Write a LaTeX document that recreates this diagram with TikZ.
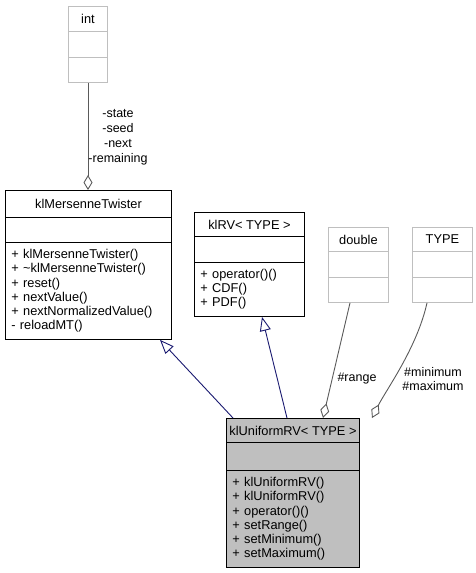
\documentclass[tikz,border=0pt]{standalone}
\usepackage{fontspec}
\setmainfont{Liberation Sans}
\usetikzlibrary{arrows.meta}
\definecolor{edgeblue}{HTML}{191970}
\definecolor{edgegray}{HTML}{5A5A5A}
\definecolor{boxgray}{HTML}{BFBFBF}
\newcommand\clsfont{\fontsize{12.8}{14.2}\selectfont}
\tikzset{
  part/.style={draw=black, fill=white, line width=0.9pt, inner xsep=6pt, inner ysep=0pt,
    anchor=north west, font=\clsfont},
  ghost/.style={part, draw=boxgray},
  hilite/.style={part, fill=boxgray},
  meth/.style={align=left},
  ttl/.style={inner xsep=0pt},
  inh/.style={draw=edgeblue, line width=0.9pt, -{Triangle[open, length=14pt, width=11pt]}},
  agg/.style={draw=edgegray, line width=0.9pt, -{Diamond[open, length=15pt, width=9pt]}},
  lbl/.style={font=\fontsize{12.5}{15}\selectfont, align=center, inner sep=0pt}
}
\begin{document}
\begin{tikzpicture}[x=1pt, y=-1pt]
\useasboundingbox (0,0) rectangle (475,573);
% int
\node[ghost, ttl, minimum width=39pt, minimum height=25pt] (int-t) at (68,6) {int};
\node[ghost, minimum width=39pt, minimum height=26pt] (int-a) at (68,31) {};
\node[ghost, minimum width=39pt, minimum height=25pt] (int-m) at (68,57) {};
% klMersenneTwister
\node[part, ttl, minimum width=166pt, minimum height=27pt] (mt-t) at (5,190) {klMersenneTwister};
\node[part, minimum width=166pt, minimum height=25pt] (mt-a) at (5,217) {};
\node[part, meth, text width=154pt, minimum height=97pt] (mt-m) at (5,242)
  {+ klMersenneTwister()\\+ \textasciitilde klMersenneTwister()\\+ reset()\\+ nextValue()\\+ nextNormalizedValue()\\- reloadMT()};
% klRV
\node[part, ttl, minimum width=110pt, minimum height=24pt] (rv-t) at (194,212) {klRV< TYPE >};
\node[part, minimum width=110pt, minimum height=26pt] (rv-a) at (194,236) {};
\node[part, meth, text width=98pt, minimum height=54pt] (rv-m) at (194,262)
  {+ operator()()\\+ CDF()\\+ PDF()};
% double
\node[ghost, ttl, minimum width=60pt, minimum height=24pt] (dbl-t) at (328,227) {double};
\node[ghost, minimum width=60pt, minimum height=26pt] (dbl-a) at (328,251) {};
\node[ghost, minimum width=60pt, minimum height=25pt] (dbl-m) at (328,277) {};
% TYPE
\node[ghost, ttl, minimum width=60pt, minimum height=24pt] (typ-t) at (412,227) {TYPE};
\node[ghost, minimum width=60pt, minimum height=26pt] (typ-a) at (412,251) {};
\node[ghost, minimum width=60pt, minimum height=25pt] (typ-m) at (412,277) {};
% klUniformRV
\node[hilite, ttl, minimum width=133pt, minimum height=24pt] (u-t) at (226,418) {klUniformRV< TYPE >};
\node[hilite, minimum width=133pt, minimum height=28pt] (u-a) at (226,442) {};
\node[hilite, meth, text width=121pt, minimum height=97pt] (u-m) at (226,470)
  {+ klUniformRV()\\+ klUniformRV()\\+ operator()()\\+ setRange()\\+ setMinimum()\\+ setMaximum()};
% connectors
\draw[inh] ([xshift=7pt]u-t.north west) -- ([xshift=155pt]mt-m.south west);
\draw[inh] ([xshift=61pt]u-t.north west) -- ([xshift=68pt]rv-m.south west);
\draw[agg] ([xshift=20pt]int-m.south west) -- ([xshift=83pt]mt-t.north west);
\draw[agg] ([xshift=22pt]dbl-m.south west) -- ([xshift=97pt]u-t.north west);
\draw[agg] ([xshift=15pt]typ-m.south west) .. controls +(-10,45) and +(14,-28) .. ([xshift=146pt]u-t.north west);
% labels
\node[lbl] (l-int) at (118,137) {-state\\-seed\\-next\\-remaining};
\node[lbl] (l-rng) at (357,379) {\#range};
\node[lbl, font=\fontsize{12.5}{14}\selectfont] (l-mm) at (433,379) {\#minimum\\\#maximum};
\end{tikzpicture}
\end{document}
